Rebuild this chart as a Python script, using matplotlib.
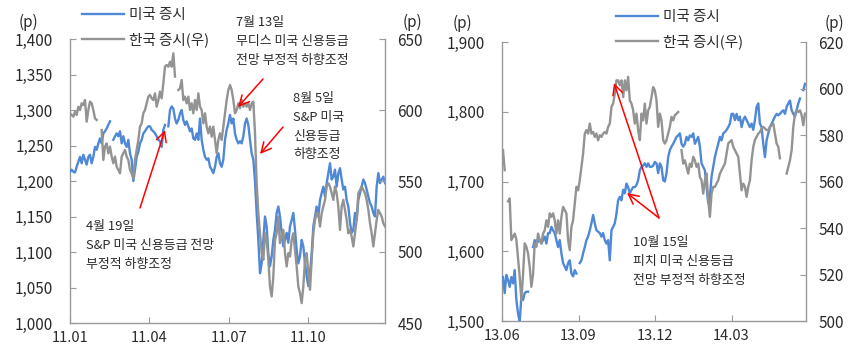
import numpy as np
import matplotlib
matplotlib.use("Agg")
import matplotlib.pyplot as plt
from matplotlib.ticker import FuncFormatter

plt.rcParams['font.family'] = ['Noto Sans CJK KR', 'DejaVu Sans']

nan = np.nan

# ---------------- Left panel (2011) ----------------
us_2011 = [1213, 1216, 1213, 1212, 1220, 1227, 1234, 1225, 1237, 1230, 1223, 1234, 1237, 1225, 1234, 1248,
           1244, 1253, 1260, 1253, 1267, 1270, 1274, 1279, 1284, nan, 1258, 1263, 1267, 1263, 1270, 1253,
           1263, 1253, 1248, 1258, 1239, 1230, 1200, 1216, 1234, 1241, 1253, 1258, 1267, 1270, 1274, 1277,
           1277, 1272, 1270, 1267, 1263, 1258, 1256, 1248, 1272, 1279, nan, 1277, 1300, 1305, 1302, 1288,
           1281, 1286, 1295, 1300, 1286, 1279, 1284, 1277, 1270, 1274, 1260, 1258, 1267, 1258, 1288, 1258,
           1244, 1234, 1230, 1232, 1220, 1216, 1211, 1220, 1234, 1239, 1225, 1220, 1230, 1258, 1272, 1281,
           1293, 1281, 1288, 1267, 1258, 1253, 1256, 1253, 1263, 1281, 1288, 1279, 1258, 1239, 1230, 1200,
           1155, 1117, 1070, 1084, 1117, 1150, 1136, 1098, 1080, 1094, 1117, 1131, 1155, 1164, 1150, 1127,
           1108, 1117, 1127, 1113, 1136, 1145, 1155, 1131, 1103, 1084, 1094, 1117, 1108, 1084, 1066, 1052,
           1070, 1098, 1136, 1150, 1164, 1150, 1173, 1183, 1192, 1178, 1197, 1211, 1225, 1202, 1206, 1216,
           1192, 1211, 1218, 1202, 1188, 1192, 1173, 1164, 1141, 1127, 1131, 1155, 1145, 1173, 1183, 1192,
           1202, 1197, 1188, 1178, 1169, 1164, 1155, 1150, 1192, 1211, 1197, 1202, 1206, 1197]

kr_2011 = [597.7, 596.5, 595.3, 598.8, 596.5, 602.3, 600, 604.7, 603.5, 607, 591.8, 600, 605.9, 604.7, 600,
           594.1, 593, nan, nan, 585.9, 564.8, 574.2, 576.5, 569.5, 574.2, 567.2, 562.5, 567.2, 560.1, 557.8,
           555.4, 567.2, 569.5, 571.9, 567.2, 564.8, 557.8, 555.4, 551.9, 564.8, 571.9, 578.9, 588.3, 590.6,
           597.7, 600, 604.7, 609.4, 610.6, 608.2, 607, 611.7, 602.3, 607, 612.9, 608.2, 618.8, 630.5, 631.7,
           630.5, 634, 630.5, 639.9, 623.5, nan, 614.1, 615.2, 621.1, 607, 609.4, 604.7, 609.4, 600, 604.7,
           597.7, 607, 600, 611.7, 602.3, 600, 590.6, 597.7, 588.3, 583.6, 588.3, 581.2, 588.3, 578.9, 569.5,
           578.9, 583.6, 578.9, 588.3, 597.7, 607, 614.1, 617.6, 614.1, 607, 597.7, 600, 604.7, 601.2, 607,
           602.3, 604.7, 602.3, 604.7, 600, 604.7, 605.9, 583.6, 548.4, 527.3, 513.2, 499.2, 494.5, 513.2,
           508.5, 494.5, 475.7, 468.7, 482.8, 508.5, 513.2, 525, 506.2, 510.9, 515.6, 499.2, 489.8, 499.2,
           496.8, 508.5, 513.2, 501.5, 489.8, 475.7, 471, 464, 475.7, 494.5, 499.2, 485.1, 473.4, 494.5,
           513.2, 522.6, 527.3, 527.3, 517.9, 527.3, 532, 536.7, 546.1, 548.4, 546.1, 541.4, 536.7, 546.1,
           541.4, 532, 515.6, 532, 536.7, 529.7, 522.6, 513.2, 515.6, 510.9, 503.9, 513.2, 522.6, 541.4,
           543.7, 546.1, 543.7, 541.4, 536.7, 529.7, 520.3, 513.2, 503.9, 513.2, 522.6, 529.7, 527.3, 525,
           520.3, 518]

# ---------------- Right panel (2013.06 - 2014.05) ----------------
us_1314 = [1563, 1540, 1566, 1559, 1549, 1563, 1554, 1573, 1530, 1511, 1499, 1535, 1530, 1540, 1542, 1542,
           nan, nan, 1606, 1616, 1611, 1614, 1616, 1611, 1616, 1621, 1611, 1626, 1626, 1635, 1630, 1626,
           1616, 1606, 1616, 1597, 1583, 1578, 1573, 1583, 1587, 1568, 1564, 1573, 1568, nan, 1583, 1587,
           1597, 1606, 1616, 1621, 1630, 1640, 1652, 1640, 1630, 1628, 1626, 1621, 1626, 1616, 1611, 1616,
           1587, 1630, 1635, 1640, 1654, 1673, 1678, 1673, 1688, 1683, 1697, 1692, 1683, 1688, 1692, 1692,
           1695, 1702, 1716, 1721, 1723, 1726, 1721, 1726, 1721, 1721, 1723, 1728, 1726, 1712, 1726, 1721,
           1702, 1700, 1712, 1735, 1745, 1750, 1754, 1759, 1764, 1766, 1769, 1754, 1750, 1754, 1764, 1759,
           1766, 1764, 1769, 1754, 1759, 1764, 1750, 1726, 1721, 1716, 1692, 1669, 1678, 1707, 1721, 1735,
           1745, 1754, 1764, 1759, 1769, 1771, 1774, 1778, 1783, 1797, 1797, 1788, 1797, 1788, 1793, 1778,
           1788, 1793, 1788, 1783, 1778, 1783, 1774, 1788, 1807, 1812, 1783, 1778, 1754, 1735, 1759, 1769,
           1778, 1783, 1788, 1793, 1797, 1795, 1797, 1800, 1802, 1797, 1807, 1812, 1816, 1802, 1797, 1793,
           1802, 1812, 1819, nan, 1831, 1840]

kr_1314 = [573.5, 564.9, nan, 551.5, 552.7, 534.8, 536.2, 537.6, 535, 527, 519, 509, 520, 533.4, 531.9,
           529.1, 523.3, 514.7, 520, 533.4, 531.9, 537.6, 534.8, 533.4, 537.6, 539, 543.3, 540.5, 546.3,
           544.8, 546.3, 543.3, 537.6, 543.3, 537.6, 544.8, 549.1, 547.7, 546.3, 534.8, 530.5, 540.5, 543.3,
           550.5, 557.7, 556.2, 560.5, 566.3, 572, 580.6, 582.1, 580.6, 584.9, 580.6, 581.3, 579.2, 580.6,
           577.7, 579.9, 579.2, 580.6, 581.3, 580.6, 583.5, 584.9, 592.1, 593.5, 597.8, 603.5, 603.5, 601.4,
           603.5, 596.3, 603.5, 599.2, 605, 594.9, 593.5, 590.6, 584.9, 589.2, 582.1, 577.8, 589.2, 586.3,
           593.5, 584.9, 590.6, 592.1, 596.3, 600.6, 599.2, 594.9, 583.5, 589.2, 586.3, 577.8, 576.3, 577.8,
           580.6, 583.5, 587.8, 586.3, 588.5, 589.2, 589.9, nan, 573.5, 567.7, 569.1, 566.3, 563.4, 567.7,
           566.3, 570.6, 569.1, 566.3, 567.7, 562, 560.5, 554.8, 560.5, 563.4, 552, 544.8, 554.8, 557.7,
           557.7, 559.1, 560.5, 563.4, 564.8, 566.3, 567.7, 572, 576.3, 577.1, 577.8, 574.9, 573.5, 572,
           570.6, 563.4, 556.2, 559.1, 557.7, 553.4, 557.7, 560.5, 569.1, 574.9, 577.8, 579.2, 580.6, 581.3,
           582.8, 583.5, 582.8, 582.1, 582.1, 583.5, 584.2, 584.9, 580.6, 576.3, 574.9, 570, nan, nan, nan,
           563.4, 566.3, 569.1, 573.5, 583.5, 589.2, 590.6, 589.9, 590.6, 588.5, 584.2, 589.2]

left_xticklabels = ['11.01', '11.04', '11.07', '11.10']
right_xticklabels = ['13.06', '13.09', '13.12', '14.03']
legend_labels = ['미국 증시', '한국 증시(우)']

BLUE = '#4F88D6'
GRAY = '#939393'
SPINE = '#9A9A9A'
TXT = '#2B2B2B'

W, H = 859, 349
fig = plt.figure(figsize=(W / 100, H / 100), dpi=100)


def make_panel(rect, us, kr, xmax, x0, x1, ylim1, yt1, ylim2, yt2, xlabels):
    ax = fig.add_axes(rect)
    ax2 = ax.twinx()
    xu = np.linspace(x0, x1, len(us))
    xk = np.linspace(x0, x1, len(kr))
    l1, = ax.plot(xu, us, color=BLUE, lw=1.7, zorder=3)
    l2, = ax2.plot(xk, kr, color=GRAY, lw=1.7, zorder=3)
    ax.set_xlim(0, xmax)
    ax.set_ylim(*ylim1)
    ax2.set_ylim(*ylim2)
    ax.set_yticks(yt1)
    ax2.set_yticks(yt2)
    ax.set_xticks([0, 3, 6, 9])
    ax.set_xticklabels(xlabels)
    fmt = FuncFormatter(lambda v, p: f'{v:,.0f}')
    ax.yaxis.set_major_formatter(fmt)
    ax2.yaxis.set_major_formatter(fmt)
    for a in (ax, ax2):
        for s in a.spines.values():
            s.set_color(SPINE)
            s.set_linewidth(1.0)
        a.spines['top'].set_visible(False)
    ax.spines['right'].set_visible(False)
    ax2.spines['left'].set_visible(False)
    ax2.spines['bottom'].set_visible(False)
    ax.tick_params(axis='y', direction='in', length=4, color=SPINE, pad=12, labelsize=11, labelcolor=TXT)
    ax.tick_params(axis='x', direction='in', length=4, color=SPINE, pad=6, labelsize=10.5, labelcolor=TXT)
    ax2.tick_params(axis='y', direction='in', length=4, color=SPINE, pad=9, labelsize=11, labelcolor=TXT)
    ax.patch.set_visible(False)
    return ax, ax2, l1, l2


# Left panel
axL, axL2, l1, l2 = make_panel([70 / W, 1 - 323 / H, 315 / W, 284 / H], us_2011, kr_2011,
                               11.9, 0, 11.9, (1000, 1400), np.arange(1000, 1401, 50),
                               (450, 650), np.arange(450, 651, 50), left_xticklabels)
# Right panel
axR, axR2, r1, r2 = make_panel([502 / W, 1 - 321 / H, 304 / W, 279 / H], us_1314, kr_1314,
                               11.92, 0.04, 11.88, (1500, 1900), np.arange(1500, 1901, 100),
                               (500, 620), np.arange(500, 621, 20), right_xticklabels)

# (p) unit labels
for px, py in [(28, 22), (412, 22), (462, 23), (834, 23)]:
    fig.text(px / W, 1 - py / H, '(p)', ha='center', va='center', fontsize=11, color=TXT)

# Legends
for ax, ln1, ln2, px, py in [(axL2, l1, l2, 82, 8), (axR2, r1, r2, 616, 10)]:
    ax.legend([ln1, ln2], legend_labels, loc='upper left', bbox_to_anchor=(px / W, 1 - py / H),
              bbox_transform=fig.transFigure, frameon=False, fontsize=10.5, handlelength=2.9,
              handletextpad=0.35, labelspacing=0.72, borderpad=0, borderaxespad=0,
              labelcolor=TXT)

arrow = dict(arrowstyle='->', color='red', lw=1.1, mutation_scale=18, shrinkA=0, shrinkB=0)


def L(px, py):
    return ((px - 70) / 315, (323 - py) / 284)


def R(px, py):
    return ((px - 502) / 304, (321 - py) / 279)


LS = 1.58
FS = 9.3

axL2.text(*L(236, 16), '7월 13일\n무디스 미국 신용등급\n전망 부정적 하향조정', transform=axL2.transAxes,
          ha='left', va='top', fontsize=FS, color=TXT, linespacing=LS)
axL2.annotate('', xy=L(238, 107), xytext=L(263, 79), xycoords='axes fraction',
              textcoords='axes fraction', arrowprops=arrow)

axL2.text(*L(293, 92), '8월 5일\nS&P 미국\n신용등급\n하향조정', transform=axL2.transAxes,
          ha='left', va='top', fontsize=FS, color=TXT, linespacing=LS)
axL2.annotate('', xy=L(260, 154), xytext=L(283, 127), xycoords='axes fraction',
              textcoords='axes fraction', arrowprops=arrow)

axL2.text(*L(86, 220), '4월 19일\nS&P 미국 신용등급 전망\n부정적 하향조정', transform=axL2.transAxes,
          ha='left', va='top', fontsize=FS, color=TXT, linespacing=LS)
axL2.annotate('', xy=L(165, 130), xytext=L(140, 208), xycoords='axes fraction',
              textcoords='axes fraction', arrowprops=arrow)

# Right annotations
axR2.text(*R(633, 236), '10월 15일\n피치 미국 신용등급\n전망 부정적 하향조정', transform=axR2.transAxes,
          ha='left', va='top', fontsize=FS, color=TXT, linespacing=LS)
axR2.annotate('', xy=R(614, 83), xytext=R(659, 218), xycoords='axes fraction',
              textcoords='axes fraction', arrowprops=arrow)
axR2.annotate('', xy=R(627, 193), xytext=R(659, 218), xycoords='axes fraction',
              textcoords='axes fraction', arrowprops=arrow)

fig.savefig('out.png', dpi=100)
